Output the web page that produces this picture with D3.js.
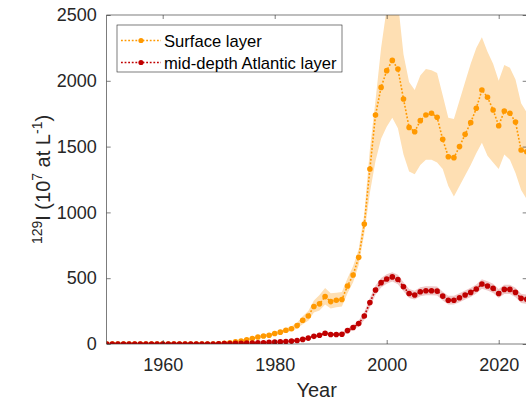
<!DOCTYPE html>
<html>
<head>
<meta charset="utf-8">
<script src="https://cdn.jsdelivr.net/npm/d3@7.9.0/dist/d3.min.js"></script>
<style>
  html, body { margin: 0; padding: 0; background: #fff; }
  svg { display: block; font-family: "Liberation Sans", Arial, Helvetica, sans-serif; }
</style>
</head>
<body>
<svg id="chart" width="526" height="404"></svg>
<script>
// years 1950..2025
const years = d3.range(1950, 2026);
const zeros20 = [0,0,0,0,0,0,0,0,0,0,0,0,0,0,0,0,0,0,0,0];

// surface layer (orange)
const surface = zeros20.concat([
  2, 5, 10, 16, 23, 32, 42, 53, 61, 67,
  80, 90, 104, 116, 140, 180, 213, 285, 305, 360,
  322, 332, 338, 441, 524, 659, 911, 1330, 1740, 1950,
  2077, 2155, 2090, 1862, 1646, 1613, 1697, 1740, 1753, 1723,
  1555, 1423, 1416, 1500, 1593, 1682, 1791, 1930, 1875, 1778,
  1659, 1770, 1753, 1687, 1474, 1460]);
const surfaceHi = zeros20.concat([
  3, 7, 13, 20, 28, 38, 49, 61, 70, 77,
  92, 103, 120, 134, 162, 210, 250, 330, 372, 425,
  385, 390, 395, 500, 590, 720, 990, 1480, 1850, 2250,
  2550, 2750, 2600, 2200, 1990, 1930, 2040, 2090, 2080, 2060,
  1890, 1720, 1710, 1850, 1990, 2130, 2250, 2330, 2220, 2130,
  2000, 2120, 2100, 2010, 1830, 1760]);
const surfaceLo = zeros20.concat([
  1, 3, 7, 12, 18, 26, 35, 45, 52, 57,
  68, 77, 88, 98, 118, 150, 176, 240, 255, 300,
  270, 280, 285, 385, 470, 600, 840, 1150, 1390, 1560,
  1650, 1720, 1640, 1440, 1310, 1290, 1360, 1400, 1400, 1380,
  1330, 1200, 1120, 1200, 1280, 1360, 1450, 1530, 1430, 1380,
  1330, 1440, 1400, 1300, 1170, 1100]);

// mid-depth Atlantic layer (dark red)
const atlantic = zeros20.concat([
  2, 3, 4, 5, 6, 7, 8, 9, 10, 12,
  14, 16, 19, 22, 27, 35, 45, 58, 66, 82,
  72, 72, 74, 102, 125, 155, 213, 315, 410, 466,
  494, 510, 490, 435, 384, 372, 397, 405, 405, 402,
  364, 333, 333, 351, 372, 392, 418, 456, 441, 423,
  384, 415, 415, 392, 347, 340]);
const atlanticHi = zeros20.concat([
  3, 4, 5, 6, 7, 8, 9, 10, 11, 13,
  15, 18, 21, 24, 30, 40, 51, 66, 76, 94,
  84, 84, 87, 118, 144, 178, 243, 350, 445, 502,
  530, 546, 526, 470, 418, 405, 431, 439, 439, 436,
  397, 366, 366, 385, 406, 427, 453, 492, 476, 458,
  418, 450, 450, 428, 382, 375]);
const atlanticLo = zeros20.concat([
  1, 2, 3, 4, 5, 6, 7, 8, 9, 11,
  13, 14, 17, 20, 24, 30, 39, 50, 56, 70,
  60, 60, 61, 86, 106, 132, 183, 280, 375, 430,
  458, 474, 454, 400, 350, 339, 363, 371, 371, 368,
  331, 300, 300, 317, 338, 357, 383, 420, 406, 388,
  350, 380, 380, 356, 312, 305]);

const xTicks = [1960, 1980, 2000, 2020];
const yTicks = [0, 500, 1000, 1500, 2000, 2500];
const seriesNames = ['Surface layer', 'mid-depth Atlantic layer'];
const seriesColors = ['#ff9900', '#c00000'];
const bandColors = ['#fedfb3', '#efc8c8'];

const svg = d3.select('#chart');
const u = { left: 106.7, right: 526.7, top: 15, bottom: 344 };
const axisColor = '#262626';

const x = d3.scaleLinear().domain([1950, 2025]).range([u.left, u.right]);
const y = d3.scaleLinear().domain([0, 2500]).range([u.bottom, u.top]);

svg.append('defs').append('clipPath').attr('id', 'clip')
  .append('rect')
  .attr('x', u.left).attr('y', u.top)
  .attr('width', u.right - u.left).attr('height', u.bottom - u.top);

const plot = svg.append('g').attr('clip-path', 'url(#clip)');

const series = [
  { name: seriesNames[0], v: surface, lo: surfaceLo, hi: surfaceHi, color: seriesColors[0], band: bandColors[0] },
  { name: seriesNames[1], v: atlantic, lo: atlanticLo, hi: atlanticHi, color: seriesColors[1], band: bandColors[1] }
];

const area = d3.area()
  .x((d, i) => x(years[i]))
  .y0(d => y(d[0]))
  .y1(d => y(d[1]));

const line = d3.line()
  .x((d, i) => x(years[i]))
  .y(d => y(d));

series.forEach(s => {
  plot.append('path')
    .datum(s.lo.map((l, i) => [l, s.hi[i]]))
    .attr('d', area)
    .attr('fill', s.band)
    .attr('stroke', 'none');
});

series.forEach(s => {
  plot.append('path')
    .datum(s.v)
    .attr('d', line)
    .attr('fill', 'none')
    .attr('stroke', s.color)
    .attr('stroke-width', 1.6)
    .attr('stroke-dasharray', '1.8,1.8');
  plot.append('g')
    .selectAll('circle')
    .data(s.v)
    .join('circle')
      .attr('cx', (d, i) => x(years[i]))
      .attr('cy', d => y(d))
      .attr('r', 2.8)
      .attr('fill', s.color);
});

// axes box
const ax = svg.append('g').attr('class', 'axes');
ax.append('rect')
  .attr('x', u.left).attr('y', u.top)
  .attr('width', u.right - u.left).attr('height', u.bottom - u.top)
  .attr('fill', 'none')
  .attr('stroke', axisColor)
  .attr('stroke-width', 0.6);

const fmt = d3.format('d');
const bottomAxis = d3.axisBottom(x).tickValues(xTicks).tickFormat(fmt).tickSizeInner(-4).tickSizeOuter(0).tickPadding(14);
const leftAxis = d3.axisLeft(y).tickValues(yTicks).tickFormat(fmt).tickSizeInner(-4).tickSizeOuter(0).tickPadding(10);

ax.append('g').attr('transform', `translate(0,${u.bottom})`).call(bottomAxis);
ax.append('g').attr('transform', `translate(${u.left},0)`).call(leftAxis);
ax.append('g').attr('transform', `translate(0,${u.top})`)
  .call(d3.axisTop(x).tickValues(xTicks).tickSizeInner(-4).tickSizeOuter(0).tickFormat(''));
ax.append('g').attr('transform', `translate(${u.right},0)`)
  .call(d3.axisRight(y).tickValues(yTicks).tickSizeInner(-4).tickSizeOuter(0).tickFormat(''));

ax.selectAll('.domain').remove();
ax.selectAll('.tick line').attr('stroke', axisColor).attr('stroke-width', 0.6);
ax.selectAll('.tick text')
  .attr('fill', axisColor)
  .style('font-size', '18px')
  .style('font-family', '"Liberation Sans", Arial, sans-serif');

// axis labels
svg.append('text')
  .attr('x', (u.left + u.right) / 2)
  .attr('y', 397)
  .attr('text-anchor', 'middle')
  .attr('fill', axisColor)
  .style('font-size', '20px')
  .text('Year');

const yl = svg.append('text')
  .attr('transform', `translate(50,${(u.top + u.bottom) / 2}) rotate(-90)`)
  .attr('text-anchor', 'middle')
  .attr('fill', axisColor)
  .style('font-size', '20px');
yl.append('tspan').attr('dy', -8).style('font-size', '14px').text('129');
yl.append('tspan').attr('dy', 8).text('I (10');
yl.append('tspan').attr('dy', -8).style('font-size', '14px').text('7');
yl.append('tspan').attr('dy', 8).text(' at L');
yl.append('tspan').attr('dy', -8).style('font-size', '14px').text('-1');
yl.append('tspan').attr('dy', 8).text(')');

// legend
const lg = svg.append('g');
lg.append('rect')
  .attr('x', 117).attr('y', 25)
  .attr('width', 225).attr('height', 47)
  .attr('fill', '#fff')
  .attr('stroke', axisColor)
  .attr('stroke-width', 0.6);

const rows = lg.selectAll('g.row')
  .data(series)
  .join('g')
    .attr('class', 'row')
    .attr('transform', (d, i) => `translate(0,${40.5 + i * 22})`);
rows.append('line')
  .attr('x1', 121).attr('x2', 161)
  .attr('stroke', d => d.color)
  .attr('stroke-width', 1.6)
  .attr('stroke-dasharray', '1.8,1.8');
rows.append('circle')
  .attr('cx', 141).attr('r', 2.6)
  .attr('fill', d => d.color);
rows.append('text')
  .attr('x', 164).attr('y', 6)
  .attr('fill', '#000')
  .style('font-size', '16.6px')
  .text(d => d.name);
</script>
</body>
</html>
